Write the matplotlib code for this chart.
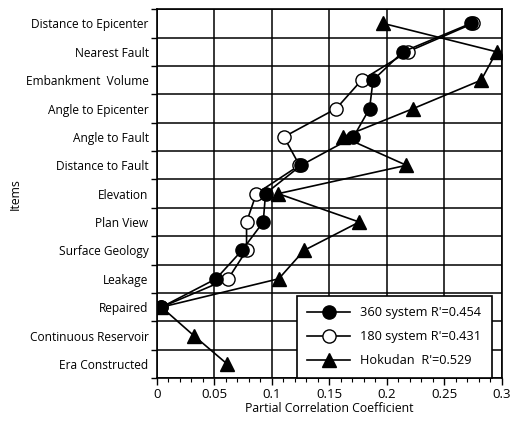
import matplotlib
matplotlib.use("Agg")
import matplotlib.pyplot as plt
from matplotlib.ticker import MultipleLocator, FixedLocator

plt.rcParams['font.family'] = ['Open Sans', 'DejaVu Sans']

items = ["Distance to Epicenter", "Nearest Fault", "Embankment  Volume",
         "Angle to Epicenter", "Angle to Fault", "Distance to Fault",
         "Elevation", "Plan View", "Surface Geology", "Leakage",
         "Repaired", "Continuous Reservoir", "Era Constructed"]

sys360 = [0.273, 0.214, 0.188, 0.185, 0.171, 0.1255, 0.0945, 0.0925, 0.074, 0.0515, 0.004]
sys180 = [0.275, 0.218, 0.178, 0.156, 0.1105, 0.124, 0.0865, 0.078, 0.078, 0.062, 0.004]
hokudan = [0.197, 0.2955, 0.282, 0.223, 0.162, 0.217, 0.1055, 0.176, 0.128, 0.106, 0.004, 0.032, 0.061]

labels = ["360 system R'=0.454", "180 system R'=0.431", "Hokudan  R'=0.529"]

fig = plt.figure(figsize=(5.11, 4.21), dpi=100)
ax = fig.add_axes([0.307, 0.102, 0.675, 0.876])

ypos = list(range(len(items)))
ax.plot(sys360, ypos[:len(sys360)], '-o', color='black', mfc='black', mec='black',
        ms=9.5, lw=1.2, label=labels[0], zorder=4)
ax.plot(sys180, ypos[:len(sys180)], '-o', color='black', mfc='white', mec='black',
        ms=9.5, mew=1.0, lw=1.2, label=labels[1], zorder=3)
ax.plot(hokudan, ypos, '-^', color='black', mfc='black', mec='black',
        ms=9.5, lw=1.2, label=labels[2], zorder=5)

ax.set_xlim(0, 0.3)
ax.set_ylim(len(items) - 0.5, -0.5)
ax.set_xticks([0, 0.05, 0.1, 0.15, 0.2, 0.25, 0.3])
ax.set_xticklabels(['0', '0.05', '0.1', '0.15', '0.2', '0.25', '0.3'])
ax.xaxis.set_minor_locator(MultipleLocator(0.01))

ax.set_yticks(ypos)
ax.set_yticklabels(items)
ax.yaxis.set_minor_locator(FixedLocator([i - 0.5 for i in range(len(items) + 1)]))

ax.tick_params(axis='y', which='major', length=0, pad=6, labelsize=8.6)
ax.tick_params(axis='y', which='minor', length=4, width=1.0, direction='out')
ax.tick_params(axis='x', which='major', length=5, width=1.0, direction='out', labelsize=9.5, pad=2)
ax.tick_params(axis='x', which='minor', length=3, width=0.8, direction='out')

ax.grid(True, axis='x', which='major', color='black', lw=1.1)
ax.grid(True, axis='y', which='minor', color='black', lw=1.1)
ax.set_axisbelow(True)
for s in ax.spines.values():
    s.set_linewidth(1.2)

ax.set_xlabel("Partial Correlation Coefficient", fontsize=8.8, labelpad=1)
ax.set_ylabel("Items", fontsize=8.8, labelpad=3)

leg = ax.legend(loc='lower right', bbox_to_anchor=(0.971, 0.0), frameon=True,
                fancybox=False, edgecolor='black', framealpha=1, fontsize=9.2,
                handlelength=3.3, borderpad=0.85, labelspacing=0.85, handletextpad=0.8,
                borderaxespad=0)
leg.get_frame().set_linewidth(1.2)

fig.savefig("out.png", dpi=100)
